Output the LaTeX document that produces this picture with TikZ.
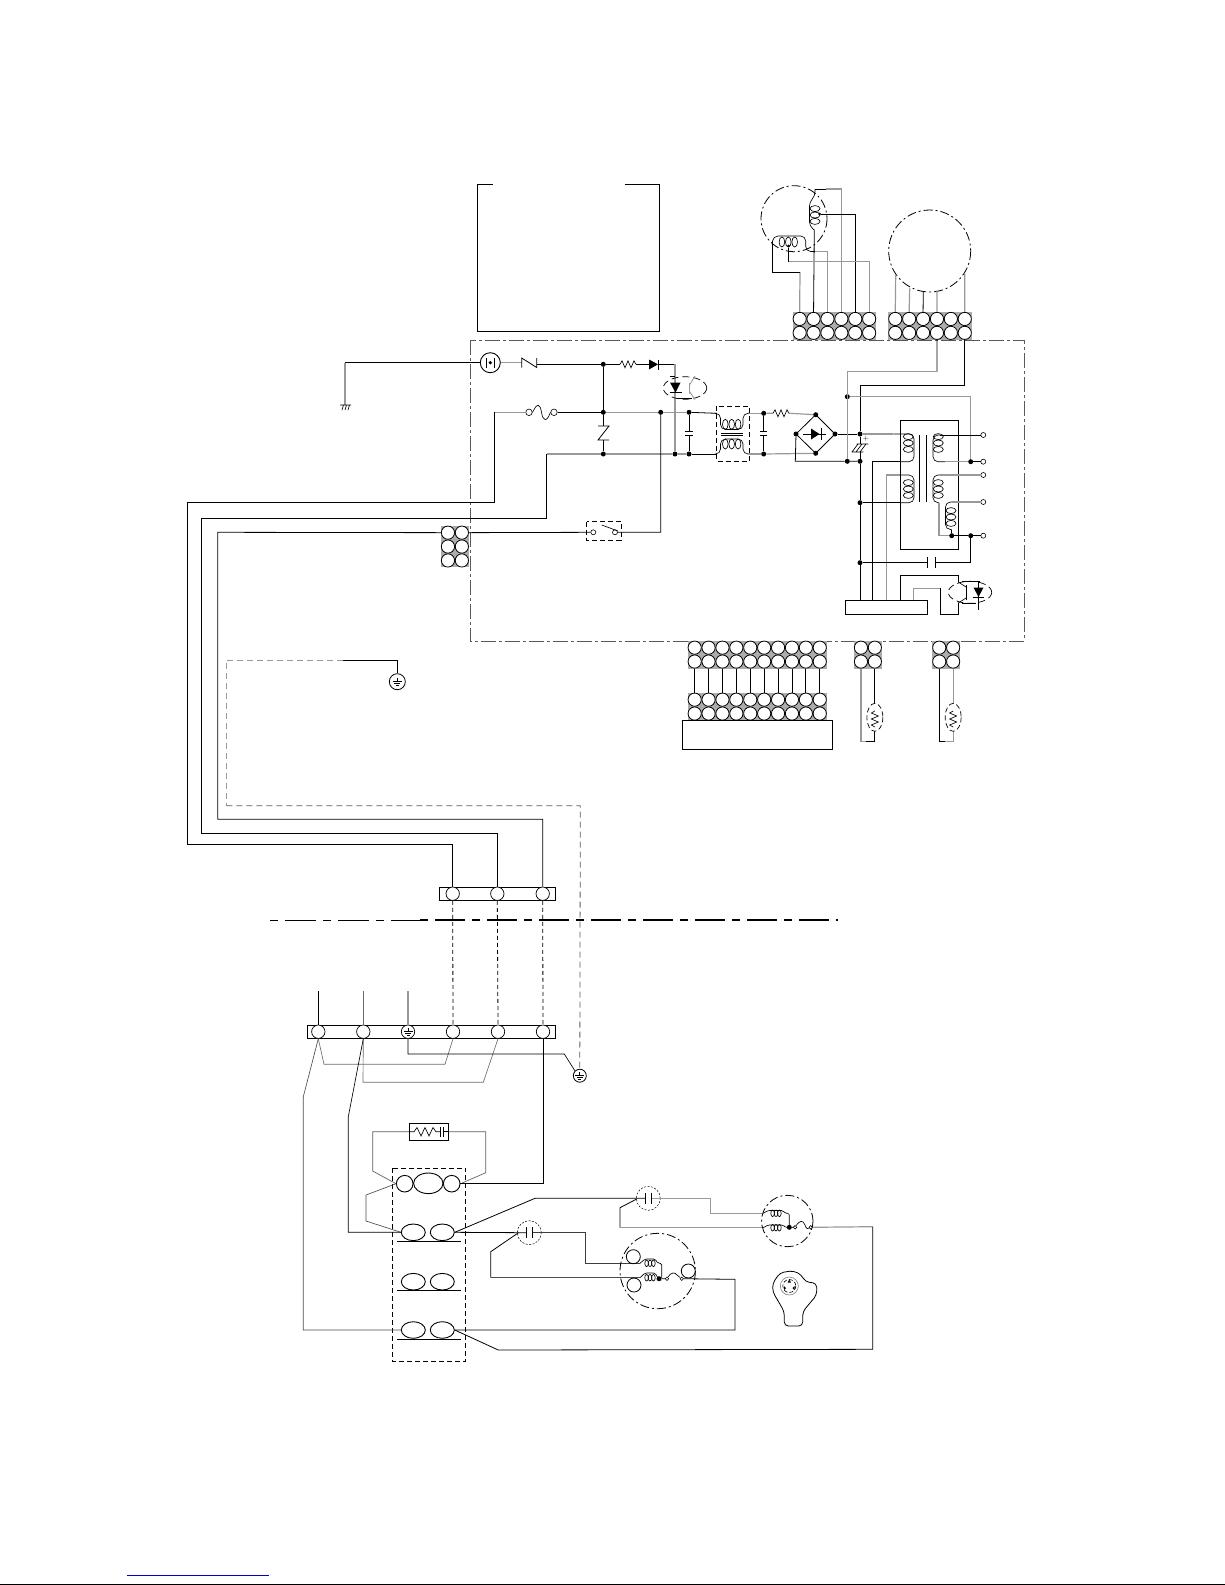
\documentclass[tikz,border=0pt]{standalone}
\usetikzlibrary{shapes.geometric}
\definecolor{wiregrey}{gray}{0.6}
\definecolor{boardgrey}{gray}{0.35}
\tikzset{
    wire/.style={line width=0.8pt, black},
    gwire/.style={line width=1.2pt, wiregrey},
    coilline/.style={line width=0.65pt, black},
    jdot/.style={circle, fill=black, inner sep=0pt, minimum size=5pt},
    term/.style={circle, draw, fill=white, line width=0.6pt, inner sep=0pt, minimum size=5pt},
    pin/.style={circle, draw, fill=white, line width=0.8pt, inner sep=0pt, minimum size=13.2pt},
    screw/.style={circle, draw, line width=0.7pt, fill=white, inner sep=0pt, minimum size=13.4pt},
    box/.style={draw, line width=0.9pt, inner sep=0pt},
    contact/.style={ellipse, draw, line width=0.9pt, fill=white, inner sep=0pt, minimum width=24pt, minimum height=16.6pt},
    board/.style={line width=0.9pt, boardgrey, dash pattern=on 15pt off 3pt on 3pt off 3pt},
    motorline/.style={line width=0.8pt, black, dash pattern=on 9pt off 3pt on 2pt off 3pt},
    dashbox/.style={line width=0.9pt, black, dash pattern=on 5pt off 3pt},
    optoline/.style={line width=0.7pt, black, dash pattern=on 7pt off 4pt},
    dotline/.style={line width=0.5pt, black, dash pattern=on 2pt off 1.5pt},
    vcoil/.pic={\foreach \k in {-1,0,1} \draw[coilline] (0,6.4*\k) ellipse (5 and 3);},
    hcoil/.pic={\foreach \k in {-1,0,1} \draw[coilline] (6.4*\k,0) ellipse (2.8 and 5);},
    tinycoil/.pic={\foreach \k in {-1,0,1} \draw[coilline] (3.4*\k,0) ellipse (1.8 and 3.3);},
    hres/.pic={\draw[coilline] (-8,0) -- (-6,-3.5) -- (-3,3.5) -- (0,-3.5) -- (3,3.5) -- (6,-3.5) -- (8,0);},
    hcap/.pic={\draw[line width=1pt] (-3,-5.3) -- (-3,5.3) (3,-5.3) -- (3,5.3);},
    vcap/.pic={\draw[line width=1pt] (-3.6,-2.3) -- (3.6,-2.3) (-3.6,2.3) -- (3.6,2.3);},
    earth/.pic={\draw[coilline] (0,-3) -- (0,0) (-4.5,0) -- (4.5,0) (-3,2.3) -- (3,2.3) (-1.5,4.4) -- (1.5,4.4);}
}
\newcommand{\pinblock}[5]{% name, left, top, columns, rows
    \fill[gray!65] (#2,#3) rectangle ++(13.9*#4,13.9*#5);
    \foreach \c in {1,...,#4} \foreach \r in {1,...,#5}
        \node[pin] (#1-\c-\r) at (#2+13.9*\c-6.95,#3+13.9*\r-6.95) {};
}
\begin{document}
\begin{tikzpicture}[x=1pt, y=-1pt]
    \useasboundingbox (0,0) rectangle (1225,1585);

    % top box and motors
    \draw[wire] (493,184) -| (477,331.5) -| (659,184) -- (625,184);
    \draw[motorline] (794,218.7) circle (33);
    \draw[motorline] (929.7,251) circle (41);
    \pinblock{ma}{792.7}{312}{6}{2}
    \pinblock{mb}{888.3}{312}{6}{2}
    \pic at (788.3,242) {hcoil};
    \pic at (815,215) {vcoil};
    \node[jdot, minimum size=3pt] (mta) at (788.7,246) {};
    \node[jdot, minimum size=3pt] (mtb) at (819.5,214) {};
    \draw[gwire] (ma-1-1.north) -- (800,272);
    \draw[wire] (800,272) -- (772.3,272) -- (772.3,244);
    \draw[coilline, rounded corners=5pt] (772.3,244) -- (773,236) -- (805.7,236) -- (805.7,251.5) -- (815,251.5);
    \draw[gwire] (815,251.5) -| (ma-3-1.north);
    \draw[wire] (ma-2-1.north) -- (814.3,230);
    \draw[coilline, rounded corners=4pt] (814.3,230) -- (809.5,226) -- (809.5,202) -- (815,196) -- (815,189);
    \draw[wire] (815,189) -- (826,189);
    \draw[gwire] (826,189) -| (ma-4-1.north);
    \draw[wire] (mtb) -| (ma-5-1.north);
    \draw[wire] (mta) -- (788.7,261.7);
    \draw[gwire] (788.7,261.7) -| (ma-6-1.north);
    \draw[gwire] (mb-1-1.north) -- (895.7,275);
    \draw[gwire] (mb-2-1.north) -- (909.7,288.3);
    \draw[wire] (mb-3-1.north) -- (923.3,291.7);
    \draw[gwire] (mb-4-1.north) -- (937,290.7);
    \draw[gwire] (mb-6-1.north) -- (964.7,273.3);

    % main board
    \draw[board] (470,340) rectangle (1024,641);
    \node[circle, draw, line width=0.9pt, inner sep=0pt, minimum size=20pt] (jack) at (490.3,362.7) {};
    \fill (490.3,362.7) circle (1.8);
    \draw[coilline] (486.5,358) -- (486.5,367.5) (494,358) -- (494,367.5);
    \coordinate (gnd) at (345,405);
    \draw[wire] (jack) -- (345,362.7);
    \draw[gwire] (345,362.7) -- (gnd);
    \draw[coilline] (340,405) -- (351,405) (342,410) -- (343.5,405) (345,410) -- (346.5,405) (348,410) -- (349.5,405);

    \foreach \n/\x/\y in {ja/603.3/364.3, jb/603.3/412.3, jc/603.3/454, jd/660.7/412.3, je/675/454,
        jf/689/412.3, jg/689/454, jh/763.7/413.3, ji/763.7/454, bt/815.7/414.7, bl/796/434,
        br/835/434, bb/815.7/453.3, jk/847.3/396.7, jl/860/434, jm/847.3/461.3, jn/860/461.3,
        jo/860/502.7, jp/860/562.7, jq/970.7/461.7, jr/970.7/535.7, js/951.7/535.7}
        \node[jdot] (\n) at (\x,\y) {};
    \foreach \n/\y in {ta/435, tb/461.7, tc/475, td/502, te/535.7}
        \node[term] (\n) at (983.3,\y) {};

    % mains side
    \draw[gwire] (jack) -- (521.7,362.7);
    \draw[wire] (521.7,367.5) -- (521.7,358) -- (536.7,367.5) -- (536.7,358);
    \draw[wire] (536.7,364.3) -- (ja) -- (620,364.3);
    \pic at (628,364.3) {hres};
    \draw[wire] (636,364.3) -- (649,364.3);
    \fill (649,359.5) -- (658,364.3) -- (649,369.5) -- cycle;
    \draw[wire] (658.5,359.5) -- (658.5,369.5) (658.5,364.3) -- (675,364.3);
    \draw[gwire] (675,364.3) -- (je);
    \draw[optoline] (685,388) ellipse (21.7 and 11.3);
    \fill (670,382.5) -- (680.5,382.5) -- (675.5,392.5) -- cycle;
    \draw[wire] (669.5,392.5) -- (681.5,392.5) (670,376.5) -- (675,376.5) (676.5,398.5) -- (692,398.5);
    \draw[gwire, line width=0.9pt] (689.5,383) -- (689.5,393.5) (689.5,385) -- (695,376) (689.5,391.5) -- (695,399.5);

    \coordinate (wa) at (494.3,412.3);
    \coordinate (wb) at (546.7,454);
    \draw[gwire] (wa) -- (525,412.3);
    \node[term, minimum size=6.5pt] (fa) at (529,412.3) {};
    \node[term, minimum size=6.5pt] (fb) at (554,412.3) {};
    \draw[coilline] (fa.east) .. controls (537,403) and (540,403) .. (541.5,412.3) .. controls (543,422) and (547,422) .. (fb.west);
    \draw[wire] (fb) -- (jb);
    \draw[wire] (ja) -- (jb) -- (603.3,426) (603.3,440) -- (jc);
    \draw[wire] (598,426) -- (609,426) -- (598,440) -- (609,440);
    \draw[gwire] (jb) -- (jd) -- (jf);
    \draw[wire] (jf) -- (716.7,413.3);
    \draw[gwire] (wb) -- (jc) -- (je) -- (jg);
    \draw[wire] (jg) -- (716.7,454);
    \draw[wire] (jf) -- (689,431) (689,436) -- (jg);
    \pic at (689,433.5) {vcap};

    % filter
    \draw[dashbox] (716.7,406) rectangle (749.3,461);
    \pic at (731.7,424.3) {hcoil};
    \pic at (731.7,444) {hcoil};
    \draw[coilline, rounded corners=5pt] (716.7,413.3) -- (720.5,413.3) -- (720.5,429.5) -- (743,429.5) -- (743,413.3) -- (749.3,413.3);
    \draw[coilline, rounded corners=5pt] (716.7,454) -- (720.5,454) -- (720.5,439) -- (743,439) -- (743,454) -- (749.3,454);
    \draw[coilline] (721,433.6) -- (743,433.6) (721,435.6) -- (743,435.6);
    \draw[gwire] (749.3,413.3) -- (jh);
    \draw[gwire] (749.3,454) -- (ji);
    \draw[wire] (jh) -- (763.7,431) (763.7,436) -- (ji);
    \pic at (763.7,433.5) {vcap};
    \draw[gwire] (jh) -- (773,413.3) (789,413.3) -- (bt);
    \pic at (781,413.3) {hres};
    \draw[gwire] (ji) -- (bb);

    % bridge
    \draw[wire] (bt.center) -- (br.center) -- (bb.center) -- (bl.center) -- cycle;
    \fill (811,428.5) -- (819.5,434) -- (811,439.5) -- cycle;
    \draw[wire] (803,434) -- (826,434) (821,428) -- (821,440);
    \draw[wire] (bl) -- (795.3,461.3) -- (jm) -- (jn);
    \draw[wire] (br) -- (jl);
    \draw[gwire] (jl) -- (893.3,434);

    % supply feeds from the connector
    \draw[wire] (mb-4-2.south) -- (937,371.7);
    \draw[gwire] (937,371.7) -| (jm);
    \draw[wire] (mb-6-2.south) |- (860,385) -- (jl);
    \draw[gwire] (jk) -| (jq);
    \draw[wire] (jq) -- (tb);
    \draw[wire] (jl) -- (860,444) (860,452) -- (jn) -- (jo) -- (jp) -- (860,600);
    \draw[coilline] (856.7,444) -- (868.3,444) (851.7,452) -- (863.3,452) (858,444) -- (852,452) (862,444) -- (856,452) (866,444) -- (860,452);
    \node[inner sep=0pt, font=\scriptsize] (plus) at (866,439) {+};

    % transformer
    \draw[wire] (900.7,420.7) rectangle (958.3,549.3);
    \draw[wire] (919.3,435) -- (919.3,501.7) (926,435) -- (926,501.7);
    \pic at (908.3,443) {vcoil};
    \pic at (908.3,489) {vcoil};
    \pic at (938.3,443) {vcoil};
    \pic at (938.3,489) {vcoil};
    \pic at (951,517) {vcoil};
    \draw[wire] (872.3,461.7) -- (900,461.7);
    \draw[coilline, rounded corners=5pt] (893.3,434) -- (914,434) -- (914,461.7) -- (900,461.7);
    \draw[wire] (872.3,461.7) -- (872.3,600);
    \draw[gwire] (886.7,600) |- (900,475);
    \draw[coilline, rounded corners=5pt] (900,475) -- (914,475) -- (914,502.7) -- (900,502.7);
    \draw[wire] (900,502.7) -- (jo);
    \draw[wire] (ta) -- (940,435);
    \draw[coilline, rounded corners=5pt] (940,435) -- (933,435) -- (933,461.7) -- (945,461.7);
    \draw[gwire] (945,461.7) -- (jq);
    \draw[gwire] (tc) -- (940,475);
    \draw[coilline, rounded corners=5pt] (940,475) -- (933,475) -- (933,502.7) -- (939,502.7);
    \draw[gwire] (939,502.7) -- (939,535.7) -- (js);
    \draw[gwire] (td) -- (952,502);
    \draw[coilline, rounded corners=5pt] (952,502) -- (945.5,502) -- (945.5,529.5) -- (951.7,529.5);
    \draw[wire] (951.7,529.5) -- (js);
    \draw[wire] (js) -- (jr) -- (te);
    \draw[wire] (jp) -- (927.7,562.7) (935.7,562.7) -| (jr);
    \draw[wire] (927.7,557) -- (927.7,568) (935.7,557) -- (935.7,568);

    % control block and second opto
    \node[box, minimum width=82.7pt, minimum height=14pt] (ctrl) at (886.35,607) {};
    \draw[wire] (900.7,600) |- (958.3,575.7) -- (958.3,582);
    \draw[gwire] (913.3,600) |- (940.7,588.3);
    \draw[wire] (940.7,588.3) |- (958.3,614.3) -- (958.3,603);
    \draw[optoline] (970,592.3) ellipse (21.7 and 11);
    \draw[wire] (966,585) -- (966,600);
    \draw[coilline] (958.3,582) -- (966,587) (966,598) -- (958.3,603);
    \fill (973.5,587.5) -- (983.5,587.5) -- (978.5,597) -- cycle;
    \draw[wire] (972.5,597.5) -- (984,597.5) (978.5,582) -- (978.5,610) (962,581.7) -- (980,581.7) (962,603.3) -- (976,603.3);

    % switch and left connector
    \pinblock{ca}{441}{525.7}{2}{3}
    \draw[dashbox] (586.7,521.7) rectangle (621.3,540);
    \node[term] (sa) at (593.3,532.3) {};
    \node[term] (sb) at (615,532.3) {};
    \draw[coilline] (601.7,525) -- (618,531);
    \draw[wire] (ca-2-1.east) -- (sa) (sb) -- (621.3,532.3) -| (jd);

    % cable run to the outdoor strip
    \node[box, minimum width=116.4pt, minimum height=13pt] (stripa) at (497.5,893.8) {};
    \foreach \n/\x in {sa1/452.7, sa2/497.3, sa3/542.7}
        \node[screw] (\n) at (\x,893.7) {};
    \draw[wire] (wa) -- (494.3,502.3) -- (187.3,502.3) -- (187.3,844.3) -| (sa1.north);
    \draw[wire] (wb) -- (546.7,518.3) -- (201.7,518.3) -- (201.7,833.3) -| (sa2.north);
    \draw[wire] (ca-1-1.west) -- (217.7,532.3) -- (217.7,819.3) -| (sa3.north);

    % connector blocks under the board
    \pinblock{cb}{687.7}{640.7}{10}{2}
    \pinblock{cc}{687.7}{692.7}{10}{2}
    \node[box, minimum width=150pt, minimum height=29.3pt] (disp) at (757.3,734.6) {};
    \foreach \c in {1,...,10}
        \draw[wire] (cb-\c-2.south) -- (cc-\c-1.north);
    \pinblock{cd}{854}{640.7}{2}{2}
    \pinblock{ce}{932.3}{640.7}{2}{2}
    \coordinate (tha) at (866,741.7);
    \coordinate (thb) at (945,741.7);
    \draw[gwire] (cd-1-2.south) |- (tha);
    \draw[wire] (cd-2-2.south) |- (tha);
    \draw[wire] (ce-1-2.south) |- (thb);
    \draw[gwire] (ce-2-2.south) |- (thb);
    \draw[dash pattern=on 5pt off 3pt, line width=0.7pt, fill=white] (cd-2-2 |- 0,717.3) ellipse (8 and 14);
    \draw[dash pattern=on 5pt off 3pt, line width=0.7pt, fill=white] (ce-2-2 |- 0,717.3) ellipse (8 and 14);
    \pic[rotate=90] at (cd-2-2 |- 0,719) {hres};
    \pic[rotate=90] at (ce-2-2 |- 0,719) {hres};

    % earth run
    \node[circle, draw, line width=0.8pt, inner sep=0pt, minimum size=16pt] (ea) at (397.3,681.7) {};
    \pic at (397.3,681) {earth};
    \node[circle, draw, line width=0.8pt, inner sep=0pt, minimum size=13pt] (eb) at (579.8,1075.7) {};
    \pic at (579.8,1075) {earth};
    \coordinate (ec) at (343.3,660);
    \draw[wire] (ea.north) |- (ec);
    \draw[gwire, line width=1pt, dash pattern=on 6pt off 4pt] (ec) -- (226.3,660) -- (226.3,805.7);
    \draw[line width=0.8pt, wiregrey!60!black, dash pattern=on 6pt off 4pt] (226.3,805.7) -- (580.3,805.7) -- (eb.north);

    % separation line
    \draw[line width=0.6pt, dash pattern=on 8pt off 7pt on 31pt off 7pt] (270,920.3) -- (420,920.3);
    \draw[line width=1.8pt, dash pattern=on 8pt off 7pt on 30pt off 7pt] (420,920.3) -- (838,920.3);

    % outdoor strip
    \node[box, minimum width=248.4pt, minimum height=13pt] (stripb) at (431.5,1031.8) {};
    \foreach \n/\x in {s1/318.3, s2/363.3, s3/408, s4/453, s5/498, s6/543}
        \node[screw] (\n) at (\x,1031.7) {};
    \pic at (408,1031) {earth};
    \foreach \a/\b in {sa1/s4, sa2/s5, sa3/s6}
        \draw[line width=0.8pt, dash pattern=on 4pt off 3pt] (\a.south) -- (\b.north);
    \draw[wire] (s1.north) -- ++(0,-33.2);
    \draw[wire, wiregrey!70!black] (s2.north) -- ++(0,-33.2);
    \draw[gwire] (s3.north) -- ++(0,-33.2);
    \draw[coilline, wiregrey!70!black] (s1.south) -- (324,1064.3) -- (445,1064.3) -- (s4.south);
    \draw[coilline, wiregrey!70!black] (s2.south) -- (363,1082.3) -- (483.3,1082.3) -- (s5.south);
    \draw[coilline] (s3.south) |- (564.3,1054) -- (eb.north west);

    % relay block
    \draw[dashbox] (392.7,1168.3) rectangle (465.7,1361.7);
    \node[circle, draw, line width=0.9pt, fill=white, inner sep=0pt, minimum size=16.6pt] (ra) at (404.7,1183.7) {};
    \node[ellipse, draw, line width=0.9pt, fill=white, inner sep=0pt, minimum width=29.4pt, minimum height=20.6pt] (rb) at (428.3,1183.3) {};
    \node[circle, draw, line width=0.9pt, fill=white, inner sep=0pt, minimum size=16.6pt] (rc) at (451.7,1183.7) {};
    \foreach \n/\y in {k/1232.3, l/1281.7, m/1330} {
        \node[contact] (\n a) at (413.3,\y) {};
        \node[contact] (\n b) at (442.3,\y) {};
        \draw[wire] (397.3,\y+9) -- (460.7,\y+9);
    }

    % snubber
    \node[box, minimum width=39.4pt, minimum height=17pt] (snub) at (429,1131.8) {};
    \draw[coilline] (snub.west) -- (414,1131.8) -- (417,1127.5) -- (421,1136) -- (425,1127.5) -- (429,1136) -- (433,1127.5) -- (436,1131.8) -- (440.5,1131.8);
    \draw[line width=1pt] (440.5,1127) -- (440.5,1136.5) (443.5,1127) -- (443.5,1136.5);
    \draw[coilline] (443.5,1131.8) -- (snub.east);
    \draw[coilline, wiregrey!60!black] (snub.west) -| (372.7,1171) -- (ra.west);
    \draw[coilline, wiregrey!60!black] (snub.east) -| (485.7,1172.7) -- (rc.east);

    % strip to relay
    \draw[wire] (s6.south) |- (rc.east);
    \draw[coilline, wiregrey!50!black] (ra.west) -- (366,1195) -- (366,1221) -- (ka.west);
    \draw[coilline] (s2.south) -- (348.3,1116.7) |- (ka.west);
    \draw[coilline, wiregrey!50!black] (s1.south) -- (303.3,1096.7) |- (ma.west);

    % capacitors and motors
    \node[circle, dotline, draw, inner sep=0pt, minimum size=24pt] (capa) at (648.3,1198.3) {};
    \node[circle, dotline, draw, inner sep=0pt, minimum size=24pt] (capb) at (529.3,1232.7) {};
    \pic at (648.3,1198.3) {hcap};
    \pic at (529.3,1232.7) {hcap};
    \coordinate (mca) at (763.3,1213.3);
    \coordinate (mcb) at (763.3,1227.7);
    \coordinate (mda) at (640,1263.3);
    \coordinate (mdb) at (640,1277.7);
    \draw[wire] (kb.east) -- (535,1198.3) -- (645,1198.3);
    \draw[wire] (kb.east) -- (526,1232.7);
    \draw[wire] (636.7,1199) -- (620,1207.7) -- (620,1227.7);
    \draw[gwire] (620,1227.7) -- (mcb);
    \draw[gwire] (651.5,1198.3) -- (710.7,1198.3) |- (mca);
    \draw[wire] (518.5,1232.7) -- (490.7,1251.7) -- (490.7,1277.7);
    \draw[wire, wiregrey!50!black] (490.7,1277.7) -- (mdb);
    \draw[wire, wiregrey!40!black] (532.5,1232.7) -- (585.7,1232.7) |- (mda);

    \draw[motorline] (787.3,1221) circle (25.7);
    \pic at (776,1213.3) {tinycoil};
    \pic at (776,1227.7) {tinycoil};
    \draw[coilline, rounded corners=1.5pt] (mca) -- (768,1210.5) -- (783,1210.5) -- (785,1213.3) -- (789.3,1213.3) -- (789.3,1227);
    \draw[coilline, rounded corners=1.5pt] (mcb) -- (768,1225) -- (783,1225) -- (786,1227.7) -- (789.3,1227.3);
    \node[jdot] (ua) at (789.3,1227.3) {};
    \node[term, minimum size=3.5pt] (ub) at (795,1227.3) {};
    \node[term, minimum size=3.5pt] (uc) at (810.7,1227.3) {};
    \draw[coilline] (ua) -- (ub) .. controls (800,1220) and (803,1220) .. (805,1225) .. controls (806,1229) and (808,1229) .. (uc);
    \draw[gwire] (uc) -- (872.7,1226.7);
    \draw[wire] (872.7,1226.7) -- (872.7,1349.3) -- (498.3,1350) -- (mb.east);

    \draw[motorline] (657.7,1271) circle (37.7);
    \node[circle, draw, line width=0.8pt, inner sep=0pt, minimum size=14pt] (va) at (633.3,1256.7) {};
    \node[circle, draw, line width=0.8pt, inner sep=0pt, minimum size=14pt] (vb) at (634,1285) {};
    \node[circle, draw, line width=0.8pt, inner sep=0pt, minimum size=14pt] (vc) at (688.3,1271) {};
    \pic at (650,1263.3) {tinycoil};
    \pic at (650,1277.7) {tinycoil};
    \draw[coilline, rounded corners=1.5pt] (mda) -- (645,1259) -- (655,1259) -- (658,1263.3) -- (661.7,1263.3) -- (661.7,1278);
    \draw[coilline, rounded corners=1.5pt] (mdb) -- (645,1273) -- (655,1273) -- (658,1278) -- (659,1278.7);
    \node[jdot] (vd) at (659,1278.7) {};
    \node[term, minimum size=3.5pt] (ve) at (667,1278.7) {};
    \node[term, minimum size=3.5pt] (vf) at (681.7,1278.7) {};
    \draw[coilline] (vd) -- (ve) .. controls (671,1272) and (675,1272) .. (677,1275) -- (vf);
    \draw[wire] (vf) -- (735,1279.3) |- (mb.east);

    % plug outline
    \draw[line width=0.8pt, rounded corners=4pt] (801.7,1275) -- (805,1281.7) -- (816.7,1283.3) -- (816.7,1295) -- (802.7,1311.7) -- (802.7,1326) -- (784.3,1326) -- (784.3,1311.7) -- (772.7,1291.7) -- (772.7,1283.3) -- (780,1272.7) -- (793.3,1270.7) -- cycle;
    \draw[line width=0.6pt, gray] (789.3,1286) circle (9);
    \draw[line width=0.6pt, dash pattern=on 4pt off 2pt] (789.3,1286) circle (6.5);
    \fill (789.3,1279.5) -- (791,1282.5) -- (787.6,1282.5) -- cycle (784,1286) -- (786,1288) -- (784,1290) -- cycle (794.5,1286) -- (792.5,1288) -- (794.5,1290) -- cycle;

    % page furniture
    \draw[blue!80!black, line width=1pt] (127,1575) -- (269,1575);
    \draw[line width=1pt] (0,1584) -- (1225,1584);
\end{tikzpicture}
\end{document}
